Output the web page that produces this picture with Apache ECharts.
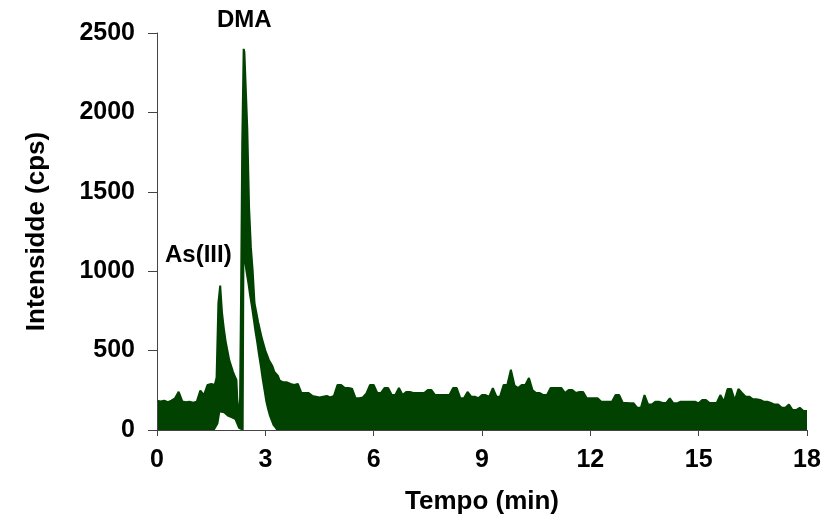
<!DOCTYPE html>
<html>
<head>
<meta charset="utf-8">
<script src="https://cdn.jsdelivr.net/npm/echarts@6/dist/echarts.min.js"></script>
<style>
html,body{margin:0;padding:0;background:#fff;}
#chart{width:826px;height:521px;}
</style>
</head>
<body>
<div id="chart"></div>
<script>
// Retention time (min)
var timeMin = [
  0.0,0.1,0.2,0.3,0.4,0.5,0.6,0.7,0.8,0.9,1.0,1.1,1.2,1.3,1.4,1.5,1.6,
  1.65,1.70,1.75,1.80,1.85,1.90,1.95,2.00,2.05,2.10,2.15,2.20,2.25,2.30,2.33,2.36,2.40,2.42,2.45,2.50,
  2.55,2.60,2.65,2.70,2.75,2.80,2.85,2.90,2.95,3.00,3.05,3.10,3.15,3.20,3.25,3.30,3.35,3.40,
  3.5,3.6,3.7,3.8,3.9,
  4.0,4.1,4.2,4.3,4.4,4.5,4.6,4.7,4.8,4.9,
  5.0,5.1,5.2,5.3,5.4,5.5,5.6,5.7,5.8,5.9,
  6.0,6.1,6.2,6.3,6.4,6.5,6.6,6.7,6.8,6.9,
  7.0,7.1,7.2,7.3,7.4,7.5,7.6,7.7,7.8,7.9,
  8.0,8.1,8.2,8.3,8.4,8.5,8.6,8.7,8.8,8.9,
  9.0,9.1,9.2,9.3,9.4,9.5,9.6,9.7,9.8,9.9,
  10.0,10.1,10.2,10.3,10.4,10.5,10.6,10.7,10.8,10.9,
  11.0,11.1,11.2,11.3,11.4,11.5,11.6,11.7,11.8,11.9,
  12.0,12.1,12.2,12.3,12.4,12.5,12.6,12.7,12.8,12.9,
  13.0,13.1,13.2,13.3,13.4,13.5,13.6,13.7,13.8,13.9,
  14.0,14.1,14.2,14.3,14.4,14.5,14.6,14.7,14.8,14.9,
  15.0,15.1,15.2,15.3,15.4,15.5,15.6,15.7,15.8,15.9,
  16.0,16.1,16.2,16.3,16.4,16.5,16.6,16.7,16.8,16.9,
  17.0,17.1,17.2,17.3,17.4,17.5,17.6,17.7,17.8,17.9,
  18.0
];
// Upper envelope of the noisy signal (cps)
var upperCps = [
  185,180,185,175,185,200,241,180,175,178,172,178,248,220,284,290,284,
  330,800,910,740,640,560,500,440,430,370,340,315,60,200,900,1800,2400,2380,2200,1900,
  1400,1150,1000,800,740,680,630,580,540,500,470,440,420,400,365,360,340,310,
  300,300,290,284,290,
  233,233,233,215,210,205,210,215,205,215,
  284,284,265,265,260,200,200,205,230,284,
  284,233,233,264,264,220,220,264,220,240,
  240,233,233,233,233,252,252,220,220,220,
  220,220,264,264,200,200,240,210,210,200,
  220,220,210,264,210,210,284,284,380,280,
  264,284,284,327,250,233,233,220,220,264,
  264,264,264,233,252,252,233,240,240,200,
  200,200,200,178,178,178,178,220,220,170,
  170,168,168,140,140,220,160,160,178,178,
  170,170,200,168,168,178,178,178,178,178,
  168,189,189,170,170,170,220,178,258,258,
  185,258,233,210,210,193,193,189,178,178,
  170,160,160,140,140,160,126,126,140,120,
  120
];
// Lower envelope of the noisy signal (cps)
var lowerCps = [
  0,0,0,0,0,0,0,0,0,0,0,0,0,0,0,0,0,
  0,40,110,115,105,95,85,80,75,70,65,60,10,0,0,0,0,1050,1000,930,
  850,780,700,620,550,470,400,320,250,180,130,90,60,30,15,0,0,0,
  0,0,0,0,0,
  0,0,0,0,0,0,0,0,0,0,
  0,0,0,0,0,0,0,0,0,0,
  0,0,0,0,0,0,0,0,0,0,
  0,0,0,0,0,0,0,0,0,0,
  0,0,0,0,0,0,0,0,0,0,
  0,0,0,0,0,0,0,0,0,0,
  0,0,0,0,0,0,0,0,0,0,
  0,0,0,0,0,0,0,0,0,0,
  0,0,0,0,0,0,0,0,0,0,
  0,0,0,0,0,0,0,0,0,0,
  0,0,0,0,0,0,0,0,0,0,
  0,0,0,0,0,0,0,0,0,0,
  0,0,0,0,0,0,0,0,0,0,
  0,0,0,0,0,0,0,0,0,0,
  0
];
var xTicks = [0,3,6,9,12,15,18];
var yTicks = [0,500,1000,1500,2000,2500];
var peakLabels = ['DMA','As(III)'];

var green = '#014201';
var upperData = timeMin.map(function(t,i){ return [t, upperCps[i]]; });
var lowerData = timeMin.map(function(t,i){ return [t, lowerCps[i]]; });

var chart = echarts.init(document.getElementById('chart'), null, {renderer:'canvas'});
var fontFam = '"Liberation Sans", Arial, sans-serif';
function plain(v){ return String(v); }
chart.setOption({
  animation:false,
  backgroundColor:'#fff',
  grid:{left:157, right:19, top:33, bottom:91, containLabel:false},
  xAxis:{
    type:'value', min:xTicks[0], max:xTicks[xTicks.length-1], interval:3, z:10,
    name:'Tempo (min)', nameLocation:'middle', nameGap:59,
    nameTextStyle:{fontFamily:fontFam, fontWeight:'bold', fontSize:26, color:'#000'},
    axisLine:{show:true, onZero:false, lineStyle:{color:'#444', width:1}},
    axisTick:{show:true, length:6, lineStyle:{color:'#444'}},
    axisLabel:{margin:18, fontFamily:fontFam, fontWeight:'bold', fontSize:25, color:'#000', formatter:plain},
    splitLine:{show:false}
  },
  yAxis:{
    type:'value', min:yTicks[0], max:yTicks[yTicks.length-1], interval:500, z:10,
    name:'Intensidde (cps)', nameLocation:'middle', nameGap:107,
    nameTextStyle:{fontFamily:fontFam, fontWeight:'bold', fontSize:26, color:'#000'},
    axisLine:{show:true, lineStyle:{color:'#444', width:1}},
    axisTick:{show:true, length:9, lineStyle:{color:'#444'}},
    axisLabel:{margin:22, fontFamily:fontFam, fontWeight:'bold', fontSize:25, color:'#000', formatter:plain},
    splitLine:{show:false}
  },
  series:[
    {type:'line', name:'signal', data:upperData, z:2,
     symbol:'none', lineStyle:{width:2, color:green},
     areaStyle:{color:green, opacity:1}, silent:true},
    {type:'line', name:'baseline gap', data:lowerData, z:3,
     symbol:'none', lineStyle:{width:0, opacity:0},
     areaStyle:{color:'#ffffff', opacity:1}, silent:true}
  ],
  graphic:[
    {type:'text', left:217, top:8, style:{text:peakLabels[0], font:'bold 24px '+fontFam, fill:'#000'}},
    {type:'text', left:165, top:243, style:{text:peakLabels[1], font:'bold 24px '+fontFam, fill:'#000'}}
  ]
});
</script>
</body>
</html>
